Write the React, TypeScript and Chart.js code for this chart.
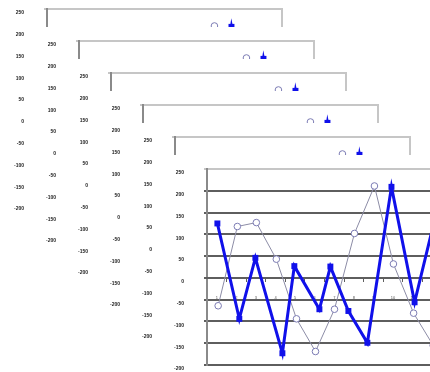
import React, { useEffect, useRef } from 'react';
import { Chart, registerables } from 'chart.js';

Chart.register(...registerables);

// ---- data ----
const blueX = [0.53, 1.65, 2.47, 3.85, 4.46, 5.74, 6.3, 7.22, 8.19, 9.42, 10.6, 11.55];
const blueY = [125, -94, 46, -173, 27, -72, 26, -76, -149, 209, -56, 120];
const grayX = [0.57, 1.55, 2.52, 3.54, 4.57, 5.54, 6.51, 7.53, 8.55, 9.52, 10.55, 11.55];
const grayY = [-64, 118, 127, 43, -94, -169, -72, 102, 211, 32, -81, -155];
const yTicks = [250, 200, 150, 100, 50, 0, -50, -100, -150, -200];
const xLabels = ['1', '2', '3', '4', '5', '6', '7', '8', '9', '10', '11', '12'];

const PANELS = [0, 1, 2, 3, 4, 5];
const STEP = 32;
const PAD_TOP = 14;
const W = 287;
const H = 240;

const BLUE = '#1010ea';
const GRAY_LINE = '#8c8ca6';
const GRAY_MARK = '#7c7cb4';

const framePlugin = {
  id: 'plotFrame',
  afterDatasetsDraw(chart: any) {
    const { ctx, chartArea: a } = chart;
    ctx.save();
    ctx.strokeStyle = '#c6c6c6';
    ctx.lineWidth = 2;
    ctx.beginPath();
    ctx.moveTo(a.right, a.top - 1);
    ctx.lineTo(a.right, a.bottom);
    ctx.stroke();
    ctx.restore();
  },
};

function Panel({ left, top }: { left: number; top: number }) {
  const ref = useRef<HTMLCanvasElement>(null);
  useEffect(() => {
    const chart = new Chart(ref.current as HTMLCanvasElement, {
      type: 'line',
      data: {
        datasets: [
          {
            label: 'B',
            data: blueX.map((x, i) => ({ x, y: blueY[i] })),
            borderColor: BLUE,
            backgroundColor: BLUE,
            borderWidth: 3,
            pointStyle: 'rect',
            pointRadius: 4.2,
            pointBorderWidth: 0,
            pointBackgroundColor: BLUE,
            tension: 0,
          },
          {
            label: 'A',
            data: grayX.map((x, i) => ({ x, y: grayY[i] })),
            borderColor: GRAY_LINE,
            borderWidth: 1,
            pointStyle: 'circle',
            pointRadius: 3.3,
            pointBackgroundColor: '#ffffff',
            pointBorderColor: GRAY_MARK,
            pointBorderWidth: 1,
            tension: 0,
          },
        ],
      },
      options: {
        responsive: false,
        animation: false,
        devicePixelRatio: 1,
        layout: { padding: { left: 0, top: PAD_TOP, right: 10, bottom: 30 } },
        plugins: { legend: { display: false }, tooltip: { enabled: false } },
        scales: {
          y: {
            type: 'linear',
            min: -200,
            max: 250,
            afterBuildTicks: (s: any) => {
              s.ticks = yTicks.map((v) => ({ value: v }));
            },
            afterFit: (s: any) => {
              s.width = 42;
            },
            ticks: {
              font: { size: 5, weight: 'bold', family: 'Liberation Sans' },
              color: '#222',
              padding: 2,
              labelOffset: 4,
            },
            grid: {
              color: (c: any) => (c.tick && c.tick.value === 250 ? '#c6c6c6' : '#5e5e5e'),
              lineWidth: 2,
              tickLength: 21,
              tickBorderDash: [0, 18, 3, 60],
            },
            border: { color: '#8a8a8a', width: 2 },
          },
          x: {
            type: 'linear',
            min: 0,
            max: 12,
            position: { y: 0 } as any,
            afterBuildTicks: (s: any) => {
              s.ticks = xLabels.map((_, i) => ({ value: i + 0.5 }));
            },
            ticks: {
              callback: (_v: any, i: number) => xLabels[i],
              font: { size: 4, family: 'Liberation Sans' },
              color: '#555',
              padding: 15,
              maxRotation: 0,
              autoSkip: false,
            },
            grid: { drawOnChartArea: false, offset: true, tickLength: 3, color: '#5e5e5e' },
            border: { color: '#5e5e5e', width: 2 },
          },
        },
      },
      plugins: [framePlugin],
    } as any);
    return () => chart.destroy();
  }, []);
  return (
    <canvas
      ref={ref}
      width={W}
      height={H}
      style={{ position: 'absolute', left, top, width: W, height: H, background: '#ffffff' }}
    />
  );
}

export default function App() {
  return (
    <div
      style={{
        position: 'fixed',
        left: 0,
        top: 0,
        width: 430,
        height: 372,
        overflow: 'hidden',
        background: '#ffffff',
      }}
    >
      {PANELS.map((k) => (
        <Panel key={k} left={5 + STEP * k} top={9 - PAD_TOP + STEP * k} />
      ))}
    </div>
  );
}
